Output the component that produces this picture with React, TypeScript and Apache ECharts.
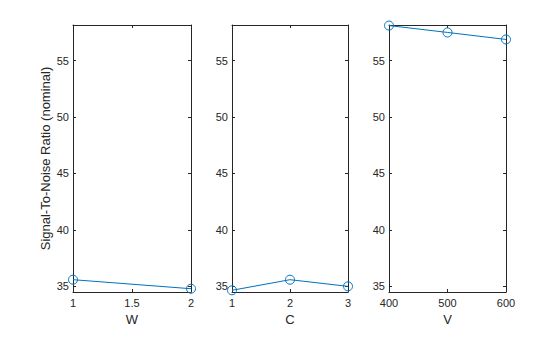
import React, { useEffect, useRef } from "react";
import * as echarts from "echarts";

const factorNames = ["W", "C", "V"];
const wLevels = [1, 2];
const wSN = [35.59, 34.79];
const cLevels = [1, 2, 3];
const cSN = [34.65, 35.59, 35.0];
const vLevels = [400, 500, 600];
const vSN = [58.1, 57.49, 56.87];
const xTicks = [[1, 1.5, 2], [1, 2, 3], [400, 500, 600]];
const xRanges = [[1, 2], [1, 3], [400, 600]];
const yTicks = [35, 40, 45, 50, 55];
const yRange = [34.5, 58.15];
const yTitle = "Signal-To-Noise Ratio (nominal)";

const FONT = "Liberation Sans, Arial, Helvetica, sans-serif";
const AX = "#262626";
const BLUE = "#0072BD";

export default function App() {
  const ref = useRef<HTMLDivElement>(null);
  useEffect(() => {
    if (!ref.current) return;
    const chart = echarts.init(ref.current, undefined, { renderer: "svg" });
    const grids = [
      { left: 73, top: 25, width: 118, height: 267 },
      { left: 232, top: 25, width: 116, height: 267 },
      { left: 389, top: 25, width: 117, height: 267 },
    ];
    const levels = [wLevels, cLevels, vLevels];
    const values = [wSN, cSN, vSN];
    const xAxes: any[] = [];
    const yAxes: any[] = [];
    const series: any[] = [];
    grids.forEach((g, i) => {
      const tickX = xTicks[i];
      xAxes.push({
        type: "value",
        gridIndex: i,
        position: "bottom",
        min: xRanges[i][0],
        max: xRanges[i][1],
        name: factorNames[i],
        nameLocation: "middle",
        nameGap: 18,
        nameTextStyle: { fontFamily: FONT, fontSize: 13, color: AX },
        axisLine: { show: true, onZero: false, lineStyle: { color: AX, width: 1 } },
        axisTick: { show: true, inside: true, length: 3, customValues: tickX, lineStyle: { color: AX } },
        axisLabel: { show: true, customValues: tickX, margin: 5, fontFamily: FONT, fontSize: 11, color: AX },
        splitLine: { show: false },
      });
      xAxes.push({
        type: "value",
        gridIndex: i,
        position: "top",
        min: xRanges[i][0],
        max: xRanges[i][1],
        axisLine: { show: true, onZero: false, lineStyle: { color: AX, width: 1 } },
        axisTick: { show: true, inside: true, length: 3, customValues: tickX, lineStyle: { color: AX } },
        axisLabel: { show: false },
        splitLine: { show: false },
      });
      yAxes.push({
        type: "value",
        gridIndex: i,
        position: "left",
        min: yRange[0],
        max: yRange[1],
        name: i === 0 ? yTitle : "",
        nameLocation: "middle",
        nameGap: 21,
        nameTextStyle: { fontFamily: FONT, fontSize: 13, color: AX },
        axisLine: { show: true, onZero: false, lineStyle: { color: AX, width: 1 } },
        axisTick: { show: true, inside: true, length: 3, customValues: yTicks, lineStyle: { color: AX } },
        axisLabel: { show: true, customValues: yTicks, margin: 4, fontFamily: FONT, fontSize: 11, color: AX },
        splitLine: { show: false },
      });
      yAxes.push({
        type: "value",
        gridIndex: i,
        position: "right",
        min: yRange[0],
        max: yRange[1],
        axisLine: { show: true, onZero: false, lineStyle: { color: AX, width: 1 } },
        axisTick: { show: true, inside: true, length: 3, customValues: yTicks, lineStyle: { color: AX } },
        axisLabel: { show: false },
        splitLine: { show: false },
      });
      series.push({
        type: "line",
        xAxisIndex: i * 2,
        yAxisIndex: i * 2,
        data: levels[i].map((x, k) => [x, values[i][k]]),
        symbol: "circle",
        symbolSize: 9,
        clip: false,
        lineStyle: { color: BLUE, width: 1 },
        itemStyle: { color: "rgba(0,0,0,0)", borderColor: BLUE, borderWidth: 1 },
      });
    });
    chart.setOption({
      animation: false,
      backgroundColor: "#ffffff",
      grid: grids,
      xAxis: xAxes,
      yAxis: yAxes,
      series,
    });
    return () => chart.dispose();
  }, []);
  return <div ref={ref} style={{ width: 560, height: 337, position: "absolute", left: 0, top: 0 }} />;
}
